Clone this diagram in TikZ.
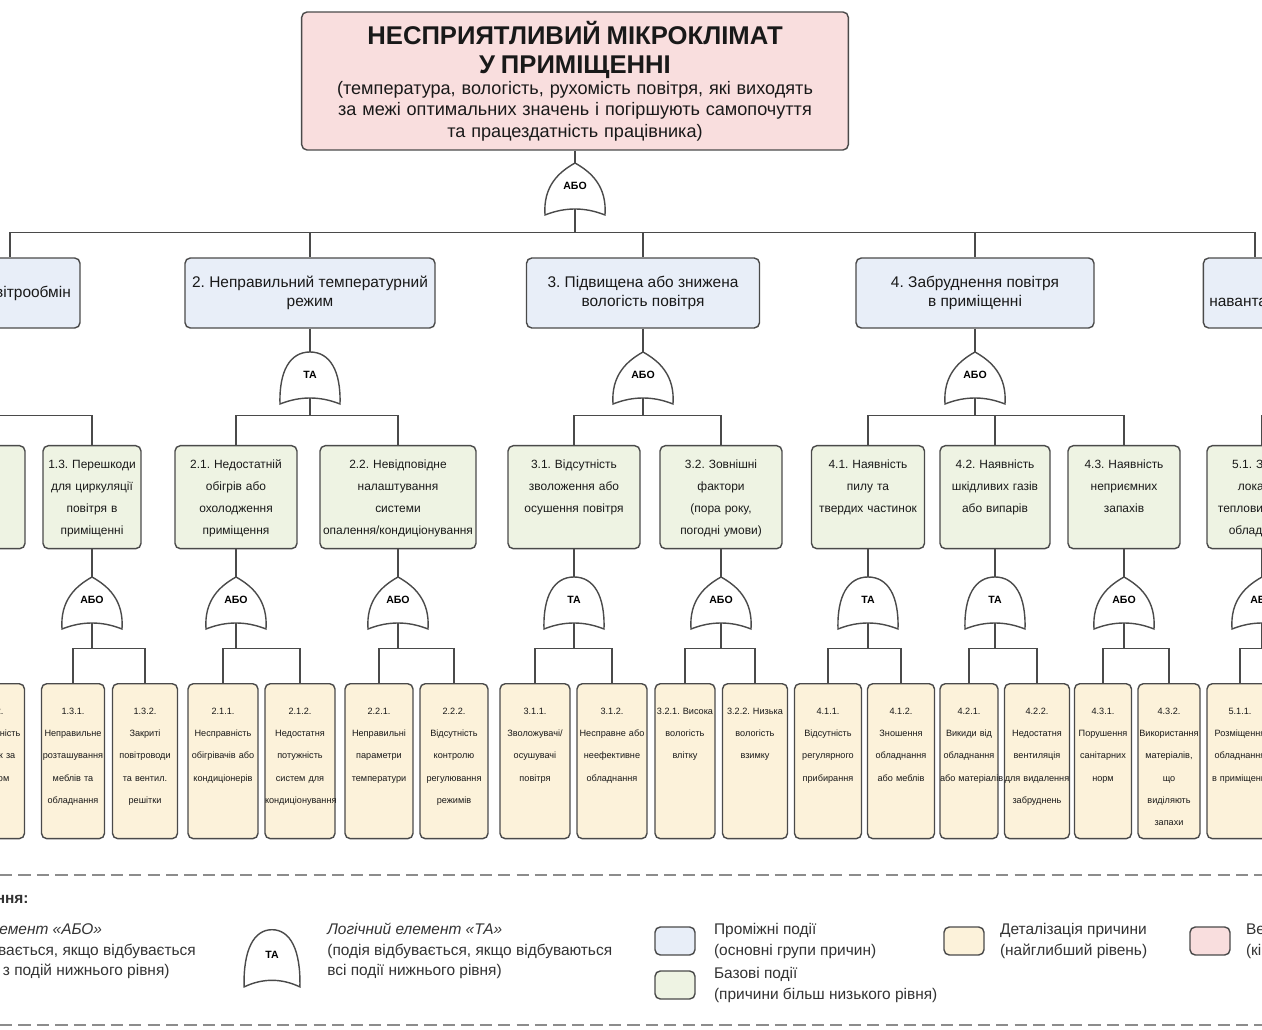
\documentclass[tikz,border=0pt]{standalone}
\usepackage{fontspec}
\setmainfont{Liberation Sans}
\frenchspacing
\usetikzlibrary{positioning}
\definecolor{evtop}{HTML}{F9DEDE}
\definecolor{evmid}{HTML}{E8EEF8}
\definecolor{evbase}{HTML}{EEF3E3}
\definecolor{evleaf}{HTML}{FCF2DA}
\definecolor{lnc}{HTML}{4A4A4A}
\tikzset{box/.style = {draw=lnc, line width=0.8pt, rounded corners=3pt, text=black!90},
         topev/.style = {box, fill=evtop, align=center, text width=10.7cm,
                         minimum width=10.92cm, minimum height=2.76cm},
         midev/.style = {box, fill=evmid, align=center, minimum width=#1, minimum height=1.4cm,
                         font=\fontsize{8.8}{10.8}\selectfont},
         baseev/.style = {box, fill=evbase, align=center, inner sep=0pt, text width=#1,
                          text height=0.46cm, text depth=1.60cm, font=\fontsize{6.8}{12.5}\selectfont},
         leafev/.style = {box, fill=evleaf, align=center, inner sep=0pt, text width=#1,
                          text height=0.62cm, text depth=2.48cm, font=\fontsize{5.2}{12.6}\selectfont},
         gatetxt/.style = {inner sep=0pt, minimum width=1.2cm, minimum height=0.92cm,
                           font=\bfseries\fontsize{6}{7}\selectfont},
         gateline/.style = {draw=lnc, line width=0.8pt, fill=white},
         conn/.style = {draw=lnc, line width=0.8pt},
         sepline/.style = {draw=black!45, line width=0.9pt, dash pattern=on 7pt off 3.5pt},
         swatch/.style = {box, minimum width=0.8cm, minimum height=0.56cm, inner sep=0pt},
         legtxt/.style = {inner sep=0pt, align=left, text=black!80, font=\fontsize{8.8}{11.6}\selectfont}}
% gates: name, position, label
\newcommand{\orgate}[4][]{%
  \draw[gateline, shift={(#3)}, #1] (-30,29) .. controls (-32,0) and (-16,-14) .. (0,-23)
    .. controls (16,-14) and (32,0) .. (30,29) .. controls (10,21) and (-10,21) .. cycle;
  \node[gatetxt] (#2) at (#3) {#4};}
\newcommand{\andgate}[4][]{%
  \draw[gateline, shift={(#3)}, #1] (-30,29) .. controls (-31,-4) and (-20,-23) .. (0,-23)
    .. controls (20,-23) and (31,-4) .. (30,29) .. controls (10,21) and (-10,21) .. cycle;
  \node[gatetxt] (#2) at (#3) {#4};}

\begin{document}
\begin{tikzpicture}[x = 0.02cm, y = -0.02cm]
    \useasboundingbox (0,0) rectangle (1262,1030);
    \clip (0,0) rectangle (1262,1030);
    \fill [white] (0,0) rectangle (1262,1030);

    % top event
    \node [topev] (top) at (575,81)
      {{\bfseries\fontsize{14.6}{16.5}\selectfont НЕСПРИЯТЛИВИЙ МІКРОКЛІМАТ\\У ПРИМІЩЕННІ\par}
       {\fontsize{10.3}{12.2}\selectfont (температура, вологість, рухомість повітря, які виходять\\
        за межі оптимальних значень і погіршують самопочуття\\та працездатність працівника)\par}};
    \orgate{g0}{575,186}{АБО}

    % groups of causes
    \node [midev=4.4cm] (b1) at (-30,293) {1. Недостатній повітрообмін};
    \node [midev=5cm] (b2) at (310,293) {2. Неправильний температурний\\режим};
    \node [midev=4.66cm] (b3) at (643,293) {3. Підвищена або знижена\\вологість повітря};
    \node [midev=4.76cm] (b4) at (975,293) {4. Забруднення повітря\\в приміщенні};
    \node [midev=4.32cm] (b5) at (1318,293) {5. Теплове\\навантаження від обладнання};

    \orgate{g1}{-45,375}{АБО}
    \andgate{g2}{310,375}{ТА}
    \orgate{g3}{643,375}{АБО}
    \orgate{g4}{975,375}{АБО}
    \orgate{g5}{1318,375}{АБО}

    % base events
    \node [baseev=2cm, anchor=north] (c11) at (-190,445) {1.1. Недостатня\\вентиляція};
    \node [baseev=2.8cm, anchor=north] (c12) at (-45,445) {1.2. Несправна\\витяжка};
    \node [baseev=1.96cm, anchor=north] (c13) at (92,445) {1.3. Перешкоди\\для циркуляції\\повітря в\\приміщенні};
    \node [baseev=2.44cm, anchor=north] (c21) at (236,445) {2.1. Недостатній\\обігрів або\\охолодження\\приміщення};
    \node [baseev=3.12cm, anchor=north] (c22) at (398,445) {2.2. Невідповідне\\налаштування\\системи\\опалення/кондиціонування};
    \node [baseev=2.64cm, anchor=north] (c31) at (574,445) {3.1. Відсутність\\зволоження або\\осушення повітря};
    \node [baseev=2.44cm, anchor=north] (c32) at (721,445) {3.2. Зовнішні\\фактори\\(пора року,\\погодні умови)};
    \node [baseev=2.26cm, anchor=north] (c41) at (868,445) {4.1. Наявність\\пилу та\\твердих частинок};
    \node [baseev=2.2cm, anchor=north] (c42) at (995,445) {4.2. Наявність\\шкідливих газів\\або випарів};
    \node [baseev=2.24cm, anchor=north] (c43) at (1124,445) {4.3. Наявність\\неприємних\\запахів};
    \node [baseev=2.2cm, anchor=north] (c51) at (1262,445) {5.1. Значні\\локальні\\тепловиділення\\обладнання};

    \orgate{g12}{-45,600}{АБО}
    \orgate{g13}{92,600}{АБО}
    \orgate{g21}{236,600}{АБО}
    \orgate{g22}{398,600}{АБО}
    \andgate{g31}{574,600}{ТА}
    \orgate{g32}{721,600}{АБО}
    \andgate{g41}{868,600}{ТА}
    \andgate{g42}{995,600}{ТА}
    \orgate{g43}{1124,600}{АБО}
    \orgate{g51}{1262,600}{АБО}

    % detailed causes
    \node [leafev=1.3cm, anchor=north] (l121) at (-80,683) {1.2.1.\\Засмічені\\фільтри};
    \node [leafev=1.3cm, anchor=north] (l122) at (-8,683) {1.2.2.\\Несправність\\витяжок за\\об'ємом};
    \node [leafev=1.26cm, anchor=north] (l131) at (73,683) {1.3.1.\\Неправильне\\розташування\\меблів та\\обладнання};
    \node [leafev=1.3cm, anchor=north] (l132) at (145,683) {1.3.2.\\Закриті\\повітроводи\\та вентил.\\решітки};
    \node [leafev=1.4cm, anchor=north] (l211) at (223,683) {2.1.1.\\Несправність\\обігрівачів або\\кондиціонерів};
    \node [leafev=1.4cm, anchor=north] (l212) at (300,683) {2.1.2.\\Недостатня\\потужність\\систем для\\кондиціонування};
    \node [leafev=1.36cm, anchor=north] (l221) at (379,683) {2.2.1.\\Неправильні\\параметри\\температури};
    \node [leafev=1.36cm, anchor=north] (l222) at (454,683) {2.2.2.\\Відсутність\\контролю\\регулювання\\режимів};
    \node [leafev=1.4cm, anchor=north] (l311) at (535,683) {3.1.1.\\Зволожувачі/\\осушувачі\\повітря};
    \node [leafev=1.4cm, anchor=north] (l312) at (612,683) {3.1.2.\\Несправне або\\неефективне\\обладнання};
    \node [leafev=1.2cm, anchor=north] (l321) at (685,683) {3.2.1. Висока\\вологість\\влітку};
    \node [leafev=1.3cm, anchor=north] (l322) at (755,683) {3.2.2. Низька\\вологість\\взимку};
    \node [leafev=1.34cm, anchor=north] (l411) at (828,683) {4.1.1.\\Відсутність\\регулярного\\прибирання};
    \node [leafev=1.34cm, anchor=north] (l412) at (901,683) {4.1.2.\\Зношення\\обладнання\\або меблів};
    \node [leafev=1.16cm, anchor=north] (l421) at (969,683) {4.2.1.\\Викиди від\\обладнання\\або~матеріалів};
    \node [leafev=1.3cm, anchor=north] (l422) at (1037,683) {4.2.2.\\Недостатня\\вентиляція\\для видалення\\забруднень};
    \node [leafev=1.14cm, anchor=north] (l431) at (1103,683) {4.3.1.\\Порушення\\санітарних\\норм};
    \node [leafev=1.24cm, anchor=north] (l432) at (1169,683) {4.3.2.\\Використання\\матеріалів,\\що\\виділяють\\запахи};
    \node [leafev=1.32cm, anchor=north] (l511) at (1240,683) {5.1.1.\\Розміщення\\обладнання\\в приміщенні};
    \node [leafev=1.32cm, anchor=north] (l512) at (1312,683) {5.1.2.\\Нагрівання\\від сонця};

    % connectors
    \draw [conn] (top.south) -- (g0.north);
    \draw [conn] (g0.south) -- ++(0,23) coordinate (bus0) -| ([xshift=0.8cm]b1.north);
    \foreach \b in {b2,b3,b4}
      \draw [conn] (bus0) -| (\b.north);
    \draw [conn] (bus0) -| ([xshift=-1.26cm]b5.north);
    \foreach \c/\g in {b2/g2,b3/g3,b4/g4,b5/g5,c12/g12,c13/g13,c21/g21,c22/g22,c31/g31,
                       c32/g32,c41/g41,c42/g42,c43/g43,c51/g51}
      \draw [conn] (\c.south) -- (\g.north);
    \foreach \g/\c in {g1/c11,g1/c12,g1/c13,g2/c21,g2/c22,g3/c31,g3/c32,
                       g4/c41,g4/c42,g4/c43,g5/c51}
      \draw [conn] (\g.south) -- ++(0,17) -| (\c.north);
    \foreach \g/\l in {g12/l121,g12/l122,g13/l131,g13/l132,g21/l211,g21/l212,g22/l221,g22/l222,
                       g31/l311,g31/l312,g32/l321,g32/l322,g41/l411,g41/l412,g42/l421,g42/l422,
                       g43/l431,g43/l432,g51/l511,g51/l512}
      \draw [conn] (\g.south) -- ++(0,25) -| (\l.north);

    % legend
    \draw [sepline] (0,875) -- (1262,875);
    \draw [sepline] (0,1025) -- (1262,1025);
    \node [legtxt, font=\bfseries\fontsize{8.8}{11}\selectfont, anchor=east] (legttl) at (29,898) {Позначення:};
    \node [legtxt, anchor=north west] (legor) at (-86,923)
      {\textit{Логічний елемент «АБО»}\\(подія відбувається, якщо відбувається\\хоча б одна з подій нижнього рівня)};
    \andgate[yscale=1.1, xscale=0.93]{legand}{272,955}{ТА}
    \node [legtxt, anchor=north west] (legtatx) at (327,923)
      {\textit{Логічний елемент «ТА»}\\(подія відбувається, якщо відбуваються\\всі події нижнього рівня)};
    \node [swatch, fill=evmid] (swmid) at (675,941) {};
    \node [legtxt, right=0.36cm of swmid] (txmid) {Проміжні події\\(основні групи причин)};
    \node [swatch, fill=evbase] (swbase) at (675,985) {};
    \node [legtxt, right=0.36cm of swbase] (txbase) {Базові події\\(причини більш низького рівня)};
    \node [swatch, fill=evleaf] (swleaf) at (964,941) {};
    \node [legtxt, right=0.3cm of swleaf] (txleaf) {Деталізація причини\\(найглибший рівень)};
    \node [swatch, fill=evtop] (swtop) at (1210,941) {};
    \node [legtxt, right=0.3cm of swtop] (txtop) {Вершинна подія\\(кінцевий результат)};
\end{tikzpicture}
\end{document}
